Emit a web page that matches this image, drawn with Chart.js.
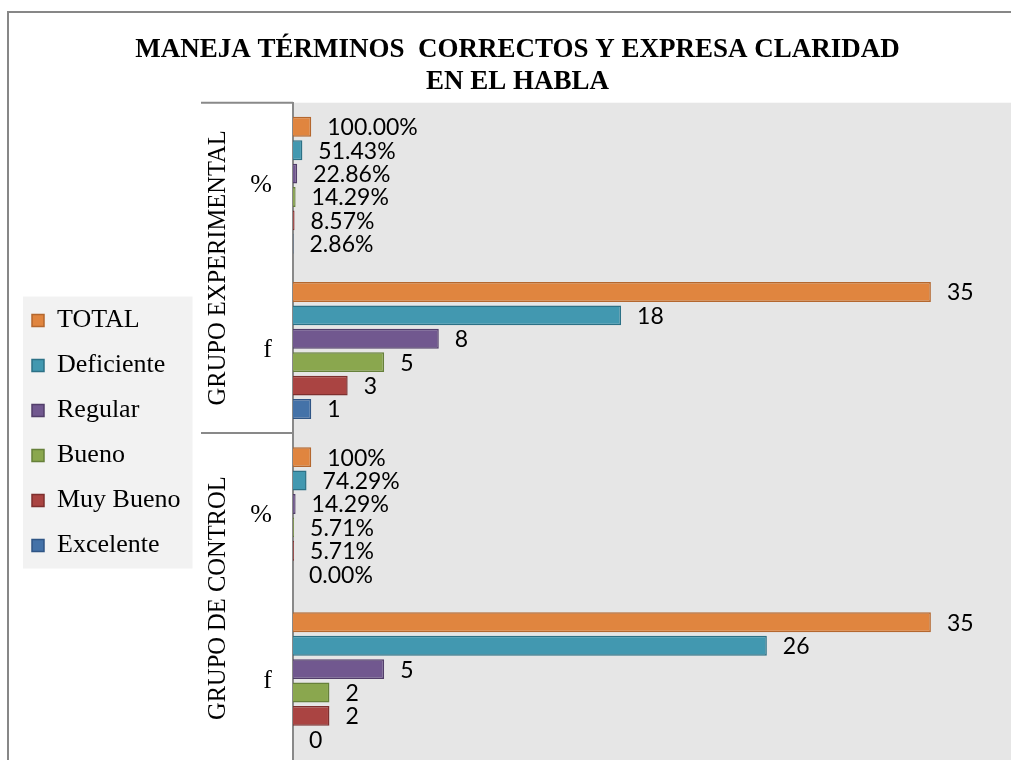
<!DOCTYPE html>
<html>
<head>
<meta charset="utf-8">
<script src="https://cdn.jsdelivr.net/npm/chart.js@4.4.0/dist/chart.umd.min.js"></script>
<style>
  html, body { margin: 0; padding: 0; background: #fff; }
  #wrap { width: 1011px; height: 760px; overflow: hidden; position: relative; }
  #chart { position: absolute; left: 0; top: 0; }
</style>
</head>
<body>
<div id="wrap"><canvas id="chart" width="1030" height="800"></canvas></div>
<script>
  // Datos del gráfico
  const titleLines = ['MANEJA TÉRMINOS  CORRECTOS Y EXPRESA CLARIDAD', 'EN EL HABLA'];
  const categories = ['%', 'f', '%', 'f'];
  const groups = ['GRUPO EXPERIMENTAL', 'GRUPO DE CONTROL'];
  const seriesNames = ['TOTAL', 'Deficiente', 'Regular', 'Bueno', 'Muy Bueno', 'Excelente'];

  const total = [1, 35, 1, 35];
  const deficiente = [0.5143, 18, 0.7429, 26];
  const regular = [0.2286, 8, 0.1429, 5];
  const bueno = [0.1429, 5, 0.0571, 2];
  const muyBueno = [0.0857, 3, 0.0571, 2];
  const excelente = [0.0286, 1, 0, 0];

  const totalLabels = ['100.00%', '35', '100%', '35'];
  const deficienteLabels = ['51.43%', '18', '74.29%', '26'];
  const regularLabels = ['22.86%', '8', '14.29%', '5'];
  const buenoLabels = ['14.29%', '5', '5.71%', '2'];
  const muyBuenoLabels = ['8.57%', '3', '5.71%', '2'];
  const excelenteLabels = ['2.86%', '1', '0.00%', '0'];

  const seriesValues = [total, deficiente, regular, bueno, muyBueno, excelente];
  const seriesLabels = [totalLabels, deficienteLabels, regularLabels, buenoLabels, muyBuenoLabels, excelenteLabels];

  // Estilos
  const fillColors = ['#E0853F', '#4298B0', '#71588F', '#8AA74E', '#AA4442', '#4472A8'];
  const lineColors = ['#B4672E', '#2C7186', '#523E6A', '#66803A', '#7E2F2E', '#2F5585'];
  const serif = "'Liberation Serif', 'Times New Roman', serif";
  const PLOT_LEFT = 293;
  const PAD_LEFT = 13;

  const chartDecor = {
    id: 'chartDecor',
    beforeDraw(chart) {
      const { ctx, chartArea: a } = chart;
      ctx.save();
      ctx.fillStyle = '#fff';
      ctx.fillRect(0, 0, chart.width, chart.height);
      // marco exterior
      ctx.strokeStyle = '#878787';
      ctx.lineWidth = 2;
      ctx.strokeRect(8, 12, a.right - 8, chart.height);
      // fondo del área de trazado
      ctx.fillStyle = '#e6e6e6';
      ctx.fillRect(a.left, a.top, a.right - a.left, a.bottom - a.top);
      // fondo de la leyenda
      const boxes = chart.legend && chart.legend.legendHitBoxes;
      if (boxes && boxes.length) {
        const l = Math.min(...boxes.map(b => b.left)) - 9;
        const r = Math.max(...boxes.map(b => b.left + b.width)) + 12;
        const t = boxes[0].top - 11;
        const btm = boxes[boxes.length - 1].top + boxes[boxes.length - 1].height + 10;
        ctx.fillStyle = '#f2f2f2';
        ctx.fillRect(l, t, r - l, btm - t);
      }
      ctx.restore();
    },
    afterDatasetsDraw(chart) {
      const ctx = chart.ctx;
      ctx.save();
      ctx.font = '23px Lato';
      ctx.fillStyle = '#000';
      ctx.textBaseline = 'middle';
      ctx.textAlign = 'left';
      chart.data.datasets.forEach((ds, di) => {
        const meta = chart.getDatasetMeta(di);
        meta.data.forEach((bar, i) => {
          ctx.fillText(ds.valueLabels[i], bar.x + 16, bar.y + 1);
        });
      });
      ctx.restore();
    },
    afterDraw(chart) {
      const { ctx, chartArea: a } = chart;
      const y = chart.scales.y;
      const per = categories.length / groups.length;
      ctx.save();
      // separadores de grupo
      ctx.strokeStyle = '#898989';
      ctx.lineWidth = 2;
      const bounds = [a.top];
      for (let g = 1; g < groups.length; g++) {
        bounds.push((y.getPixelForTick(g * per - 1) + y.getPixelForTick(g * per)) / 2);
      }
      bounds.push(a.bottom);
      bounds.forEach(py => {
        ctx.beginPath();
        ctx.moveTo(201, py);
        ctx.lineTo(a.left, py);
        ctx.stroke();
      });
      // etiquetas de grupo giradas
      ctx.fillStyle = '#000';
      ctx.font = '24.5px ' + serif;
      ctx.textAlign = 'center';
      ctx.textBaseline = 'middle';
      groups.forEach((name, g) => {
        const cy = (bounds[g] + bounds[g + 1]) / 2;
        ctx.save();
        ctx.translate(219, cy);
        ctx.rotate(-Math.PI / 2);
        ctx.fillText(name, 0, 0);
        ctx.restore();
      });
      ctx.restore();
    }
  };

  const datasets = seriesNames.map((name, i) => ({
    label: name,
    data: seriesValues[i],
    valueLabels: seriesLabels[i],
    backgroundColor: fillColors[i],
    borderColor: lineColors[i],
    borderWidth: 1.5,
    categoryPercentage: 0.85,
    barPercentage: 0.85
  }));

  new Chart(document.getElementById('chart'), {
    type: 'bar',
    data: { labels: categories, datasets: datasets },
    options: {
      indexAxis: 'y',
      responsive: false,
      animation: false,
      layout: { padding: { left: PAD_LEFT, right: 8, top: 12, bottom: 33 } },
      scales: {
        x: {
          display: false,
          min: 0,
          max: 40
        },
        y: {
          grid: { display: false, drawTicks: false },
          border: { display: true, color: '#898989', width: 2 },
          ticks: {
            color: '#000',
            padding: 21,
            font: { family: serif, size: 26 }
          },
          afterFit(scale) {
            const lg = scale.chart.legend;
            const lw = lg && lg.width ? lg.width : 0;
            scale.width = PLOT_LEFT - PAD_LEFT - lw;
          }
        }
      },
      plugins: {
        title: {
          display: true,
          text: titleLines,
          color: '#000',
          font: { family: serif, size: 27, weight: 'bold', lineHeight: 1.18 },
          padding: { top: 22, bottom: 5 }
        },
        legend: {
          position: 'left',
          fullSize: false,
          labels: {
            color: '#000',
            boxWidth: 12,
            boxHeight: 12,
            padding: 19,
            font: { family: serif, size: 26 }
          }
        },
        tooltip: { enabled: false }
      }
    },
    plugins: [chartDecor]
  });
</script>
</body>
</html>
